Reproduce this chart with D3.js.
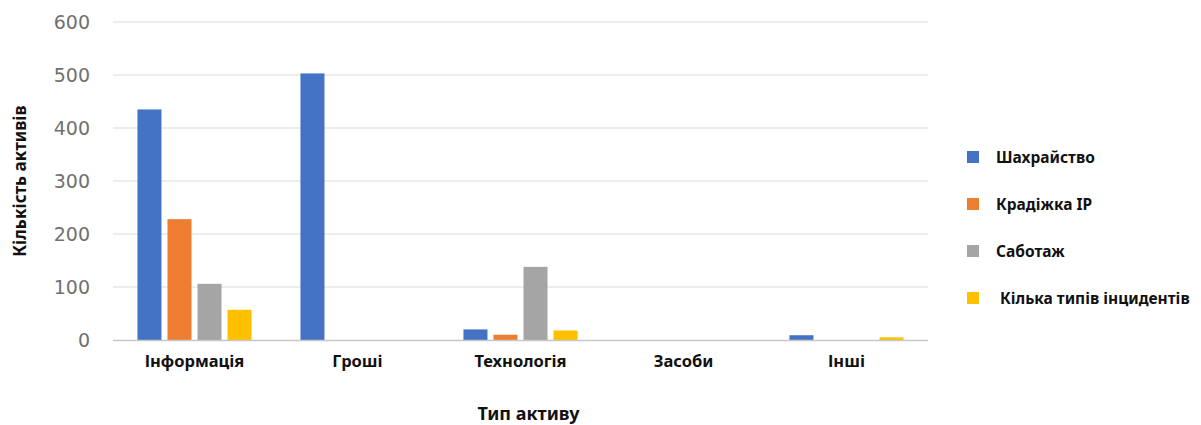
<!DOCTYPE html>
<html>
<head>
<meta charset="utf-8">
<script src="https://cdn.jsdelivr.net/npm/d3@7"></script>
<style>
  html, body { margin: 0; padding: 0; background: #fff; }
  svg { display: block; }
  text { font-family: "Noto Sans", "Open Sans", sans-serif; }
</style>
</head>
<body>
<svg id="chart" width="1201" height="425"></svg>
<script>
// Asset types (x categories)
const categories = ["Інформація", "Гроші", "Технологія", "Засоби", "Інші"];
// Incident types (series)
const seriesNames = ["Шахрайство", "Крадіжка IP", "Саботаж", "Кілька типів інцидентів"];
const seriesColors = ["#4472c4", "#ed7d31", "#a5a5a5", "#ffc000"];
// Counts per series, one value per category
const fraud    = [435, 503, 20, 0, 9];
const ipTheft  = [228, 0, 10, 0, 0];
const sabotage = [106, 0, 138, 0, 0];
const multiple = [57, 0, 18, 0, 5];
const yTicks = [0, 100, 200, 300, 400, 500, 600];

const seriesValues = [fraud, ipTheft, sabotage, multiple];

const svg = d3.select("#chart");
const plot = { left: 113, right: 928, top: 22, bottom: 340 };

const x = d3.scaleBand()
  .domain(categories)
  .range([plot.left, plot.right])
  .paddingInner(0.3)
  .paddingOuter(0.15);

const xInner = d3.scaleBand()
  .domain(d3.range(seriesNames.length))
  .range([0, x.bandwidth()])
  .paddingInner(0.2);

const y = d3.scaleLinear().domain([0, 600]).range([plot.bottom, plot.top]);

// Horizontal gridlines
svg.append("g")
  .selectAll("line")
  .data(yTicks.filter(d => d > 0))
  .join("line")
  .attr("x1", plot.left).attr("x2", plot.right)
  .attr("y1", d => y(d)).attr("y2", d => y(d))
  .attr("stroke", "#dcdcdc").attr("stroke-width", 1.2);

// Y axis tick labels
const yAxis = d3.axisLeft(y).tickValues(yTicks).tickSize(0).tickPadding(0);
const gy = svg.append("g").attr("transform", `translate(90,0)`).call(yAxis);
gy.select(".domain").remove();
gy.selectAll("text")
  .attr("fill", "#707070")
  .attr("font-size", 19)
  .attr("dy", "0.36em")
  .style("font-family", "'DejaVu Sans', sans-serif");

// Bars
const groups = svg.append("g")
  .selectAll("g")
  .data(categories)
  .join("g")
  .attr("transform", d => `translate(${x(d)},0)`);

groups.selectAll("rect")
  .data((c, ci) => seriesValues.map((vals, si) => ({ si, v: vals[ci] })))
  .join("rect")
  .attr("x", d => xInner(d.si))
  .attr("width", xInner.bandwidth())
  .attr("y", d => y(d.v))
  .attr("height", d => y(0) - y(d.v))
  .attr("fill", d => seriesColors[d.si]);

// Baseline
svg.append("line")
  .attr("x1", plot.left).attr("x2", plot.right)
  .attr("y1", y(0) + 0.5).attr("y2", y(0) + 0.5)
  .attr("stroke", "#c8c8c8").attr("stroke-width", 1.5);

// X axis category labels
const xAxis = d3.axisBottom(x).tickSize(0).tickPadding(0);
const gx = svg.append("g").attr("transform", `translate(0,${plot.bottom + 27})`).call(xAxis);
gx.select(".domain").remove();
gx.selectAll("text")
  .attr("dy", 0)
  .attr("fill", "#111")
  .attr("font-size", 16.5)
  .attr("font-weight", "bold");

// Axis titles
svg.append("text")
  .attr("x", (plot.left + plot.right) / 2 + 8)
  .attr("y", 420)
  .attr("text-anchor", "middle")
  .attr("font-size", 18)
  .attr("font-weight", "bold")
  .attr("fill", "#111")
  .text("Тип активу");

svg.append("text")
  .attr("transform", "translate(26,181) rotate(-90)")
  .attr("text-anchor", "middle")
  .attr("font-size", 17)
  .attr("font-weight", "bold")
  .attr("fill", "#111")
  .text("Кількість активів");

// Legend
const legendY = [157, 204, 251, 298];
const legend = svg.append("g")
  .selectAll("g")
  .data(seriesNames)
  .join("g")
  .attr("transform", (d, i) => `translate(967,${legendY[i]})`);

legend.append("rect")
  .attr("x", 0).attr("y", -6)
  .attr("width", 12).attr("height", 12)
  .attr("fill", (d, i) => seriesColors[i]);

legend.append("text")
  .attr("x", (d, i) => i === 3 ? 33 : 29)
  .attr("y", 5.5)
  .attr("font-size", 15.5)
  .attr("font-weight", "bold")
  .attr("fill", "#111")
  .text(d => d);
</script>
</body>
</html>
